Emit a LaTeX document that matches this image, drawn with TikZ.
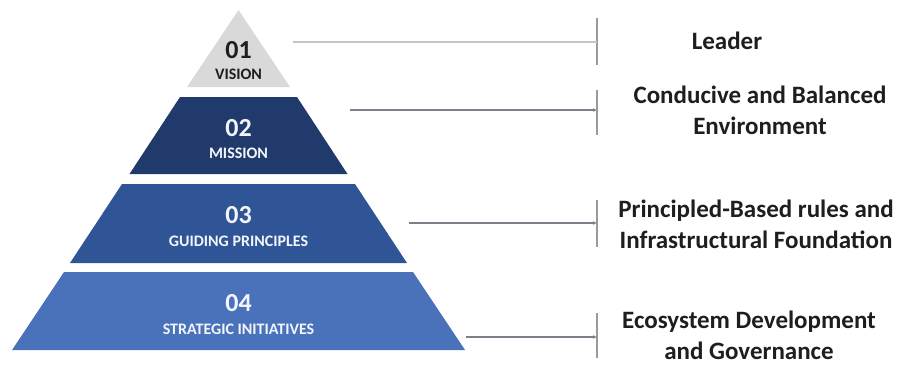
\documentclass[tikz,border=0pt]{standalone}
\usepackage{fontspec}
\setmainfont{Carlito}
\usetikzlibrary{arrows.meta}
\definecolor{tierA}{HTML}{D9D9D9}
\definecolor{tierB}{HTML}{213A6C}
\definecolor{tierC}{HTML}{2F5597}
\definecolor{tierD}{HTML}{4A72BA}
\definecolor{lineA}{HTML}{C4C4C4}
\definecolor{lineB}{HTML}{7C808A}
\definecolor{tickc}{HTML}{9A9A9A}
\definecolor{txtdark}{HTML}{1E1E1E}
\definecolor{txtlight}{HTML}{F2F5FB}
\tikzset{
  numtxt/.style={font=\fontsize{26}{28}\selectfont\bfseries, inner sep=0pt, anchor=center},
  captxt/.style={font=\fontsize{16}{18}\selectfont\bfseries, inner sep=0pt, anchor=center},
  label/.style={font=\fontsize{25}{31}\selectfont\bfseries, text=txtdark, align=center, inner sep=0pt, anchor=center},
  tickline/.style={draw=tickc, line width=1.1pt},
  connA/.style={draw=lineA, line width=1.5pt},
  connB/.style={draw=lineB, line width=1.5pt, -{Latex[length=4pt,width=4pt]}},
}
\begin{document}
\begin{tikzpicture}[x=1pt,y=-1pt]
\useasboundingbox (0,0) rectangle (901,367);
% pyramid tiers
\fill[tierA] (238.5,10) -- (290,87) -- (187,87) -- cycle;
\fill[tierB] (180,97) -- (297,97) -- (347.5,174) -- (129.5,174) -- cycle;
\fill[tierC] (122,184) -- (355,184) -- (407,263) -- (70,263) -- cycle;
\fill[tierD] (64,272) -- (413,272) -- (465,350) -- (12,350) -- cycle;
% tier texts
\node[numtxt, text=txtdark] (n1) at (238.5,50) {01};
\node[captxt, text=txtdark] (c1) at (238.5,74) {VISION};
\node[numtxt, text=txtlight] (n2) at (238.5,128) {02};
\node[captxt, text=txtlight] (c2) at (238.5,153) {MISSION};
\node[numtxt, text=txtlight] (n3) at (238.5,215) {03};
\node[captxt, text=txtlight] (c3) at (238.5,241) {GUIDING PRINCIPLES};
\node[numtxt, text=txtlight] (n4) at (238.5,303) {04};
\node[captxt, text=txtlight] (c4) at (238.5,329) {STRATEGIC INITIATIVES};
% connector end points
\coordinate (s1) at (293,42);
\coordinate (s2) at (350,110);
\coordinate (s3) at (409,223);
\coordinate (s4) at (466,337);
\coordinate (e1) at (597,42);
\coordinate (e2) at (597,110);
\coordinate (e3) at (597,223);
\coordinate (e4) at (597,337);
% ticks
\coordinate (t1a) at (597,18);  \coordinate (t1b) at (597,65);
\coordinate (t2a) at (597,90);  \coordinate (t2b) at (597,135);
\coordinate (t3a) at (597,200); \coordinate (t3b) at (597,247);
\coordinate (t4a) at (597,313); \coordinate (t4b) at (597,358);
\draw[tickline] (t1a) -- (t1b);
\draw[tickline] (t2a) -- (t2b);
\draw[tickline] (t3a) -- (t3b);
\draw[tickline] (t4a) -- (t4b);
% connectors
\draw[connA] (s1) -- (e1);
\draw[connB] (s2) -- (e2);
\draw[connB] (s3) -- (e3);
\draw[connB] (s4) -- (e4);
% labels
\node[label] (l1) at (727,41) {Leader};
\node[label] (l2) at (760,110.5) {Conducive and Balanced\\Environment};
\node[label] (l3) at (756,224) {Principled-Based rules and\\Infrastructural Foundation};
\node[label] (l4) at (749,335) {Ecosystem Development\\and Governance};
\end{tikzpicture}
\end{document}
